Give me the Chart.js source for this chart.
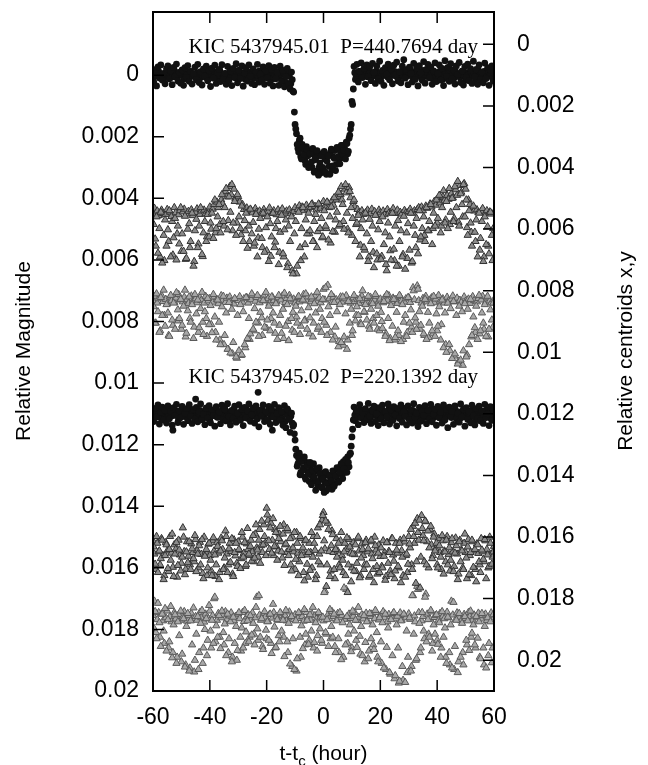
<!DOCTYPE html>
<html><head><meta charset="utf-8">
<script src="https://cdn.jsdelivr.net/npm/chart.js@4/dist/chart.umd.min.js"></script>
<style>html,body{margin:0;padding:0;background:#fff}canvas{display:block}</style>
</head><body>
<canvas id="c" width="648" height="765" style="width:648px;height:765px"></canvas>
<script>
// time from mid-transit (hours), two interleaved cadences
const hours = [
-60,-59.5,-59,-58.5,-58,-57.5,-57,-56.5,-56,-55.5,
-55,-54.5,-54,-53.5,-53,-52.5,-52,-51.5,-51,-50.5,
-50,-49.5,-49,-48.5,-48,-47.5,-47,-46.5,-46,-45.5,
-45,-44.5,-44,-43.5,-43,-42.5,-42,-41.5,-41,-40.5,
-40,-39.5,-39,-38.5,-38,-37.5,-37,-36.5,-36,-35.5,
-35,-34.5,-34,-33.5,-33,-32.5,-32,-31.5,-31,-30.5,
-30,-29.5,-29,-28.5,-28,-27.5,-27,-26.5,-26,-25.5,
-25,-24.5,-24,-23.5,-23,-22.5,-22,-21.5,-21,-20.5,
-20,-19.5,-19,-18.5,-18,-17.5,-17,-16.5,-16,-15.5,
-15,-14.5,-14,-13.5,-13,-12.5,-12,-11.5,-11,-10.5,
-10,-9.5,-9,-8.5,-8,-7.5,-7,-6.5,-6,-5.5,
-5,-4.5,-4,-3.5,-3,-2.5,-2,-1.5,-1,-0.5,
0,0.5,1,1.5,2,2.5,3,3.5,4,4.5,
5,5.5,6,6.5,7,7.5,8,8.5,9,9.5,
10,10.5,11,11.5,12,12.5,13,13.5,14,14.5,
15,15.5,16,16.5,17,17.5,18,18.5,19,19.5,
20,20.5,21,21.5,22,22.5,23,23.5,24,24.5,
25,25.5,26,26.5,27,27.5,28,28.5,29,29.5,
30,30.5,31,31.5,32,32.5,33,33.5,34,34.5,
35,35.5,36,36.5,37,37.5,38,38.5,39,39.5,
40,40.5,41,41.5,42,42.5,43,43.5,44,44.5,
45,45.5,46,46.5,47,47.5,48,48.5,49,49.5,
50,50.5,51,51.5,52,52.5,53,53.5,54,54.5,
55,55.5,56,56.5,57,57.5,58,58.5,59,59.5,
60];
const hours2 = [
-59.75,-59.25,-58.75,-58.25,-57.75,-57.25,-56.75,-56.25,-55.75,-55.25,
-54.75,-54.25,-53.75,-53.25,-52.75,-52.25,-51.75,-51.25,-50.75,-50.25,
-49.75,-49.25,-48.75,-48.25,-47.75,-47.25,-46.75,-46.25,-45.75,-45.25,
-44.75,-44.25,-43.75,-43.25,-42.75,-42.25,-41.75,-41.25,-40.75,-40.25,
-39.75,-39.25,-38.75,-38.25,-37.75,-37.25,-36.75,-36.25,-35.75,-35.25,
-34.75,-34.25,-33.75,-33.25,-32.75,-32.25,-31.75,-31.25,-30.75,-30.25,
-29.75,-29.25,-28.75,-28.25,-27.75,-27.25,-26.75,-26.25,-25.75,-25.25,
-24.75,-24.25,-23.75,-23.25,-22.75,-22.25,-21.75,-21.25,-20.75,-20.25,
-19.75,-19.25,-18.75,-18.25,-17.75,-17.25,-16.75,-16.25,-15.75,-15.25,
-14.75,-14.25,-13.75,-13.25,-12.75,-12.25,-11.75,-11.25,-10.75,-10.25,
-9.75,-9.25,-8.75,-8.25,-7.75,-7.25,-6.75,-6.25,-5.75,-5.25,
-4.75,-4.25,-3.75,-3.25,-2.75,-2.25,-1.75,-1.25,-0.75,-0.25,
0.25,0.75,1.25,1.75,2.25,2.75,3.25,3.75,4.25,4.75,
5.25,5.75,6.25,6.75,7.25,7.75,8.25,8.75,9.25,9.75,
10.25,10.75,11.25,11.75,12.25,12.75,13.25,13.75,14.25,14.75,
15.25,15.75,16.25,16.75,17.25,17.75,18.25,18.75,19.25,19.75,
20.25,20.75,21.25,21.75,22.25,22.75,23.25,23.75,24.25,24.75,
25.25,25.75,26.25,26.75,27.25,27.75,28.25,28.75,29.25,29.75,
30.25,30.75,31.25,31.75,32.25,32.75,33.25,33.75,34.25,34.75,
35.25,35.75,36.25,36.75,37.25,37.75,38.25,38.75,39.25,39.75,
40.25,40.75,41.25,41.75,42.25,42.75,43.25,43.75,44.25,44.75,
45.25,45.75,46.25,46.75,47.25,47.75,48.25,48.75,49.25,49.75,
50.25,50.75,51.25,51.75,52.25,52.75,53.25,53.75,54.25,54.75,
55.25,55.75,56.25,56.75,57.25,57.75,58.25,58.75,59.25,59.75];

// all series below are in units of 1e-5
const UNIT = 1e-5;

// KIC 5437945.01 relative magnitude (left axis)
const lightCurve1 = [
-5,3,-8,2,-12,6,0,-3,9,-6,
4,-10,1,7,-4,-15,2,5,-7,0,
-9,3,12,-2,-6,8,-11,0,4,-3,
6,-8,-1,10,-5,2,-13,7,-2,3,
-7,0,5,-10,9,-4,1,-16,6,-2,
3,-6,11,-1,-9,4,0,-5,8,-12,
2,7,-3,-8,1,14,-6,3,-10,5,
-2,9,-7,0,4,-14,6,-3,1,-9,
8,-1,-5,3,12,-7,0,6,-11,2,
-4,18,-6,1,25,-8,4,28,15,
55,160,190,238,212,265,225,240,278,232,
262,290,245,300,258,275,312,262,298,318,
255,305,272,322,260,296,250,308,266,245,
290,238,272,250,228,268,240,218,255,205,
175,85,45,
-8,3,-4,-12,6,0,-9,2,-15,5,
-3,-10,4,-6,1,-13,8,-2,-7,3,
-11,0,-5,6,-16,2,-8,-1,-12,4,
-6,9,-3,-10,1,-14,5,-7,0,-18,
3,-9,7,-4,-12,2,-6,10,-15,-1,
4,-8,-20,3,-5,12,-10,0,-7,5,
-13,1,14,-4,-9,6,-2,-17,3,-6,
9,-11,0,-5,7,-3,-14,2,16,-8,
-1,5,-10,3,-6,12,-4,-15,1,-7,
4,-12,8,-3,-9,2,-5,10,-6];
const lightCurve1b = [
22,-18,35,-27,9,-33,16,-6,28,-21,
-30,12,-14,31,-25,5,-36,19,-9,26,
-17,33,-24,7,-31,20,-12,29,-4,-26,
15,-35,24,-11,32,-20,3,-29,18,-15,
37,-23,10,-32,27,-8,-19,21,-34,13,
-5,30,-28,17,-13,34,-22,8,-37,25,
-16,11,-30,36,-7,-24,19,-33,4,27,
-20,31,-10,-35,23,-3,16,-27,30,-14,
9,-31,26,-18,35,-25,12,-8,33,-29,
20,-15,38,5,-22,30,45,-10,52,
120,175,225,250,205,272,235,258,290,242,
300,255,282,238,315,270,245,325,285,262,
300,248,315,280,262,322,240,295,270,310,
235,265,288,228,258,245,272,222,248,195,
160,95,
-28,14,-35,22,-12,-40,8,-22,30,-33,
5,-26,18,-38,-9,27,-30,12,-45,20,
-15,33,-24,-3,-36,15,-20,28,-32,0,
-42,19,-11,25,-29,-50,10,-18,31,-26,
-6,22,-38,14,-23,35,-31,-8,17,-44,
26,-19,-35,9,-27,30,-14,-40,21,-5,
-33,16,-22,34,-47,4,-25,20,-37,12,
-16,29,-30,-2,-41,24,-13,32,-28,8,
-36,18,-21,27,-45,6,-19,30,-33,14,
-10,25,-39,11,-24,33,-17,-30,20];

// KIC 5437945.02 relative magnitude (left axis)
const lightCurve2 = [
1098,1105,1092,1110,1101,1088,1115,1097,1104,1090,
1112,1099,1085,1107,1153,1096,1103,1091,1118,1100,
1094,1108,1087,1102,1113,1095,1083,1106,1099,1111,
1052,1093,1104,1089,1116,1098,1101,1086,1109,1095,
1120,1092,1103,1097,1084,1110,1099,1106,1091,1114,
1100,1088,1107,1096,1119,1093,1102,1085,1109,1098,
1104,1096,1095,1112,1090,1101,1087,1115,1097,1106,
1092,1108,1083,1099,1030,1094,1103,1089,1110,1100,
1096,1122,1086,1105,1153,1093,1101,1112,1090,1107,
1098,1115,1094,1125,1102,1089,1118,1108,1130,
1135,1185,1235,1262,1228,1290,1250,1275,1305,1258,
1288,1320,1270,1302,1262,1318,1285,1332,1275,1310,
1340,1292,1322,1350,1300,1335,1312,1345,1290,1326,
1305,1280,1318,1270,1298,1255,1290,1262,1240,1272,
1228,1175,1120,
1104,1093,1110,1097,1086,1108,1099,1115,1091,1102,
1095,1112,1088,1105,1098,1080,1109,1094,1117,1100,
1090,1106,1097,1113,1085,1102,1096,1120,1092,1108,
1099,1087,1111,1095,1104,1082,1107,1098,1115,1093,
1101,1089,1110,1097,1124,1094,1106,1086,1103,1112,
1096,1091,1108,1100,1084,1114,1097,1105,1090,1110,
1099,1087,1103,1118,1095,1083,1106,1098,1112,1092,
1101,1088,1107,1096,1115,1093,1104,1085,1109,1100,
1097,1113,1090,1106,1087,1120,1102,1094,1108,1091,
1099,1111,1095,1086,1105,1098,1116,1093,1112];
const lightCurve2b = [
1125,1082,1110,1071,1133,1095,1078,1120,1088,1130,
1074,1116,1092,1137,1080,1105,1069,1128,1090,1112,
1076,1134,1098,1083,1122,1070,1108,1131,1086,1117,
1079,1126,1093,1068,1119,1102,1135,1081,1114,1073,
1129,1087,1106,1140,1077,1111,1094,1132,1072,1118,
1084,1123,1067,1109,1136,1089,1115,1075,1127,1097,
1070,1121,1085,1138,1079,1113,1091,1068,1124,1103,
1081,1130,1074,1116,1142,1088,1107,1071,1125,1093,
1119,1076,1134,1086,1110,1069,1128,1099,1080,1121,
1092,1137,1073,1145,1084,1115,1160,1098,1140,
1165,1215,1270,1245,1298,1255,1282,1240,1312,1268,
1295,1258,1330,1285,1305,1348,1278,1320,1295,1338,
1310,1355,1288,1326,1342,1300,1318,1285,1335,1302,
1275,1322,1290,1262,1310,1278,1248,1290,1258,1232,
1205,1150,
1078,1122,1089,1135,1070,1113,1096,1128,1083,1119,
1066,1107,1131,1091,1075,1125,1100,1138,1080,1116,
1072,1129,1094,1110,1068,1133,1087,1121,1077,1104,
1139,1082,1115,1071,1127,1093,1108,1136,1074,1119,
1086,1130,1067,1112,1098,1141,1079,1124,1090,1105,
1073,1132,1088,1117,1069,1126,1101,1084,1137,1076,
1113,1095,1130,1071,1120,1086,1145,1078,1109,1092,
1134,1074,1116,1099,1127,1068,1111,1085,1140,1080,
1118,1093,1129,1072,1106,1136,1083,1115,1075,1123,
1090,1131,1069,1112,1100,1138,1077,1121,1088];

// KIC 5437945.01 centroid x (right axis)
const centroid1X = [
548,532,655,541,556,690,538,549,702,552,
536,640,545,559,684,530,547,615,553,540,
672,544,535,698,551,542,660,537,556,705,
546,534,648,552,541,689,538,550,625,543,
528,600,535,520,612,512,530,585,505,518,
590,478,495,572,462,488,605,470,500,580,
495,512,618,520,536,605,531,542,640,538,
547,655,533,545,628,541,552,660,536,548,
670,544,531,688,549,540,642,553,537,675,
545,534,690,548,541,712,537,550,735,542,
530,745,536,524,702,528,540,650,522,535,
615,530,518,640,526,538,608,520,532,628,
510,527,598,515,530,645,508,522,610,505,
495,590,488,505,575,470,482,600,465,498,
620,510,528,585,536,546,652,540,552,668,
545,538,690,550,535,675,543,554,700,538,
547,688,541,553,715,536,548,670,544,533,
702,549,538,720,545,551,682,539,547,695,
542,535,710,548,540,660,536,530,635,528,
540,620,525,532,605,518,528,598,510,522,
580,502,515,590,495,508,570,490,503,585,
485,498,565,472,490,578,458,480,560,452,
470,595,505,520,610,530,541,640,537,546,
668,542,533,690,548,540,655,544,551,702,
545];
const centroid1Xb = [
585,632,560,678,598,545,710,620,570,655,
602,540,690,575,628,565,700,590,648,530,
615,672,558,695,600,582,640,548,720,605,
568,660,590,530,682,612,575,640,552,625,
580,548,630,505,598,560,520,612,488,575,
530,468,602,495,545,455,580,510,620,488,
560,598,525,640,572,548,662,590,535,615,
578,645,552,690,600,565,630,548,675,595,
560,705,582,625,548,660,598,575,715,610,
555,680,602,570,725,590,640,560,745,615,
575,720,545,660,598,530,690,570,615,548,
605,520,640,575,552,660,518,598,565,625,
540,590,512,635,560,528,608,498,570,545,
480,585,462,520,600,455,548,612,478,530,
565,505,640,580,555,690,598,570,660,548,
615,705,568,640,590,725,555,680,602,575,
698,560,650,612,735,580,625,700,548,665,
590,720,572,640,605,690,558,730,612,582,
668,548,705,590,620,565,680,540,625,598,
560,640,530,605,575,520,650,548,590,505,
565,490,612,530,475,580,510,598,468,545,
500,575,462,530,445,590,485,520,455,560,
505,620,540,580,655,525,610,570,690,548,
630,575,705,560,650,592,680,545,620,598];

// KIC 5437945.01 centroid y (right axis)
const centroid1Y = [
832,818,905,840,826,930,815,835,880,828,
842,945,820,833,912,838,824,898,812,830,
925,836,821,950,829,841,890,817,834,918,
826,839,935,822,831,902,840,818,948,833,
825,910,837,820,935,829,842,960,816,831,
975,838,824,990,820,835,1005,843,828,1019,
832,819,1010,837,826,985,822,840,958,829,
815,930,834,822,905,839,827,945,818,833,
922,826,841,890,820,832,938,836,823,912,
830,817,955,838,825,900,815,834,928,827,
840,885,822,836,915,829,812,895,833,820,
940,836,827,905,818,835,925,824,839,890,
795,830,912,782,826,935,838,821,950,829,
834,965,820,837,977,826,816,960,831,840,
945,823,835,880,829,841,905,817,832,870,
838,825,915,821,836,890,830,818,925,834,
827,900,839,822,940,831,816,955,836,824,
960,828,841,945,819,833,958,837,826,935,
822,838,918,790,829,902,784,832,925,840,
825,945,818,836,952,830,823,940,839,827,
930,815,834,910,826,840,975,821,833,995,
828,817,1012,836,824,1030,831,838,1042,820,
834,1008,827,841,950,819,832,935,836,825,
940,830,818,925,838,823,950,833,840,920,
829];
const centroid1Yb = [
852,905,810,868,935,822,880,798,915,845,
872,948,815,895,840,925,806,862,890,828,
912,850,798,938,865,820,902,845,955,812,
875,830,920,858,805,942,868,890,825,910,
848,936,812,885,960,830,902,975,852,818,
945,872,990,838,1002,860,968,825,1015,880,
995,845,1008,868,975,822,955,890,940,810,
925,858,902,815,948,870,888,832,918,805,
895,850,930,820,872,905,842,958,815,880,
938,860,808,915,845,962,826,890,870,935,
850,905,818,942,865,830,898,810,925,855,
888,820,950,842,872,805,918,860,935,828,
902,790,945,852,880,812,960,838,918,868,
982,845,968,820,950,875,990,835,905,860,
930,815,898,852,880,826,910,800,868,845,
895,818,925,860,842,905,812,880,850,930,
870,922,835,948,812,890,962,848,915,828,
952,870,930,815,965,845,902,880,948,822,
905,862,935,800,888,925,795,868,912,850,
940,828,958,870,905,842,930,818,948,875,
915,852,960,830,985,872,1000,840,975,858,
1020,835,1005,880,1038,850,1025,868,995,842,
1015,860,975,828,945,885,920,850,958,815,
930,872,905,845,948,818,925,862,895,840];

// KIC 5437945.02 centroid x (right axis)
const centroid2X = [
1612,1655,1705,1620,1648,1690,1605,1660,1725,1618,
1645,1712,1598,1652,1698,1625,1640,1730,1610,1658,
1685,1570,1647,1705,1615,1662,1690,1622,1650,1680,
1608,1643,1700,1617,1656,1718,1600,1649,1725,1623,
1660,1710,1612,1645,1728,1618,1652,1715,1603,1640,
1700,1580,1655,1690,1620,1647,1720,1609,1661,1685,
1615,1644,1670,1600,1652,1695,1622,1640,1660,1610,
1648,1680,1590,1635,1665,1575,1628,1650,1560,1620,
1506,1545,1640,1555,1610,1660,1575,1632,1645,1590,
1615,1668,1560,1625,1650,1580,1640,1690,1600,1648,
1705,1585,1652,1680,1605,1645,1715,1612,1658,1730,
1620,1650,1700,1598,1643,1725,1570,1655,1690,1545,
1520,1638,1760,1555,1647,1710,1580,1650,1735,1605,
1645,1690,1612,1660,1715,1620,1640,1780,1608,1652,
1700,1618,1657,1712,1605,1645,1725,1622,1660,1690,
1610,1648,1730,1615,1655,1705,1600,1642,1720,1625,
1663,1695,1612,1650,1728,1618,1646,1710,1605,1658,
1735,1620,1652,1700,1610,1644,1725,1616,1660,1715,
1598,1635,1690,1565,1620,1750,1540,1610,1765,1530,
1595,1680,1550,1615,1700,1575,1625,1660,1590,1638,
1690,1605,1650,1705,1612,1645,1680,1598,1657,1710,
1618,1648,1695,1603,1655,1720,1610,1642,1700,1620,
1650,1735,1608,1660,1725,1615,1645,1705,1622,1653,
1690,1605,1648,1680,1612,1640,1700,1600,1655,1665,
1630];
const centroid2Xb = [
1632,1688,1598,1715,1645,1670,1610,1738,1660,1625,
1702,1640,1675,1590,1728,1655,1618,1692,1642,1710,
1665,1600,1722,1648,1683,1615,1705,1638,1670,1595,
1712,1655,1628,1690,1608,1735,1662,1640,1700,1620,
1675,1725,1602,1658,1690,1630,1738,1645,1612,1705,
1668,1598,1715,1638,1682,1605,1728,1650,1620,1695,
1640,1702,1585,1665,1618,1690,1572,1655,1630,1678,
1595,1668,1560,1642,1610,1685,1548,1625,1598,1660,
1528,1612,1570,1652,1540,1630,1585,1675,1605,1565,
1648,1590,1692,1622,1572,1660,1605,1710,1635,1585,
1672,1620,1725,1598,1660,1635,1742,1610,1688,1650,
1708,1585,1665,1620,1738,1598,1680,1560,1645,1530,
1612,1548,1690,1575,1728,1628,1592,1705,1640,1665,
1620,1700,1585,1675,1648,1725,1602,1690,1632,1745,
1655,1710,1625,1685,1600,1732,1668,1640,1705,1618,
1690,1638,1725,1610,1670,1748,1628,1695,1652,1715,
1635,1700,1662,1740,1618,1685,1650,1722,1605,1678,
1710,1642,1695,1620,1748,1665,1605,1730,1655,1688,
1622,1575,1705,1598,1555,1680,1585,1545,1665,1572,
1612,1548,1690,1580,1635,1565,1670,1600,1645,1620,
1700,1628,1665,1595,1720,1648,1610,1690,1635,1675,
1605,1712,1652,1628,1738,1615,1680,1645,1705,1590,
1668,1632,1722,1650,1610,1698,1640,1745,1625,1680,
1715,1642,1672,1608,1735,1658,1695,1620,1688,1648];

// KIC 5437945.02 centroid y (right axis)
const centroid2Y = [
1855,1808,1910,1868,1845,1925,1850,1872,1945,1862,
1840,1960,1858,1875,1975,1845,1866,1990,1852,1870,
2005,1860,1842,2015,1873,1855,2025,1848,1865,2038,
1858,1870,2030,1845,1862,2010,1876,1850,1985,1865,
1840,1960,1855,1800,1940,1870,1848,1925,1862,1853,
1950,1842,1868,1975,1856,1846,1990,1872,1858,2000,
1850,1865,1970,1845,1874,1945,1859,1852,1925,1868,
1846,1915,1862,1795,1935,1853,1870,1955,1848,1860,
1930,1874,1851,1945,1863,1845,1960,1857,1870,1940,
1849,1866,1925,1855,1872,1975,1843,1860,2020,1868,
1852,2035,1864,1847,1990,1858,1873,1950,1845,1862,
1935,1870,1850,1960,1855,1866,1920,1848,1860,1945,
1872,1775,1915,1853,1865,1930,1842,1858,1955,1870,
1848,1975,1862,1855,1990,1867,1770,1945,1850,1864,
1960,1857,1845,1935,1871,1860,1980,1852,1866,2005,
1847,1873,1970,1858,1850,1950,1865,1845,1990,1869,
1855,2010,1842,1862,2030,1875,1851,2045,1860,1848,
2060,1866,1857,2074,1846,1870,2065,1853,1862,2040,
1849,1867,2020,1790,1856,2000,1760,1845,1975,1872,
1858,1930,1785,1850,1915,1866,1843,1945,1861,1854,
1935,1870,1848,1960,1857,1865,1990,1844,1862,2015,
1808,1853,2030,1868,1846,2005,1860,1872,1975,1851,
1864,1950,1845,1858,1925,1870,1853,1960,1862,1847,
1990,1866,1855,2015,1850,1871,1985,1858,1846,1960,
1862];
const centroid2Yb = [
1895,1842,1930,1815,1878,1955,1850,1905,1832,1970,
1868,1940,1825,1992,1885,1852,2010,1875,1920,1840,
1980,1865,2022,1890,1848,2035,1872,1950,1830,2000,
1915,1858,1975,1880,1838,1960,1900,1865,1935,1822,
1905,1870,1945,1795,1888,1925,1855,1962,1840,1910,
1882,1985,1850,1930,1875,2005,1860,1945,1890,1968,
1845,1925,1895,1960,1838,1908,1872,1940,1855,1918,
1880,1950,1828,1898,1790,1925,1865,1965,1842,1902,
1875,1935,1850,1978,1818,1892,1958,1868,1920,1845,
1905,1870,1988,1838,1940,1880,2012,1858,1930,2030,
1872,1995,1845,1925,1888,1962,1835,1915,1870,1948,
1852,1905,1828,1942,1878,1970,1845,1898,1935,1860,
1780,1910,1868,1955,1835,1890,1925,1850,1975,1872,
1930,1845,1998,1878,1765,1950,1858,1915,1885,1972,
1840,1905,1870,1958,1828,1922,1890,1985,1855,1942,
1875,1995,1848,1930,1885,1965,1838,1910,2005,1862,
1940,1878,2025,1850,1958,1895,2040,1868,1985,1845,
2050,1885,1960,2068,1872,2020,1850,2072,1905,1990,
1862,2035,1790,1915,1875,1995,1770,1880,1960,1845,
1905,1795,1940,1868,1925,1838,1970,1885,1915,1852,
1948,1878,1990,1842,1925,1895,2010,1860,1975,1885,
2025,1812,1955,1870,2040,1848,1990,1880,2015,1858,
1935,1872,1968,1840,1912,1885,1950,1858,1928,1875,
1995,1848,1960,1890,2025,1862,1945,1875,2008,1852];

const xTicks = [-60,-40,-20,0,20,40,60];
const magTicks = [0,0.002,0.004,0.006,0.008,0.01,0.012,0.014,0.016,0.018,0.02];
const centroidTicks = [0,0.002,0.004,0.006,0.008,0.01,0.012,0.014,0.016,0.018,0.02];
const panelLabels = ['KIC 5437945.01  P=440.7694 day','KIC 5437945.02  P=220.1392 day'];
const labelAnchors = [[54.4,-0.00072],[54.4,0.0100]];

function toPoints(t, vals){ return t.map((h,i)=>({x:h, y:vals[i]*UNIT})); }
function both(a, b){ return toPoints(hours, a).concat(toPoints(hours2, b)); }
function fmt(v){ return String(parseFloat(Number(v).toFixed(4))); }

Chart.defaults.font.family = "'Liberation Sans', Arial, sans-serif";
Chart.defaults.color = '#000';

const frame = {
  id:'frame',
  afterDraw(chart){
    const c = chart.ctx, a = chart.chartArea;
    const xs = chart.scales.x, ys = chart.scales.y, y2 = chart.scales.y2;
    const L = 11;
    c.save();
    c.strokeStyle = '#000'; c.lineWidth = 1.5;
    c.beginPath();
    xs.ticks.forEach(t=>{ const p = xs.getPixelForValue(t.value);
      c.moveTo(p,a.bottom); c.lineTo(p,a.bottom-L); c.moveTo(p,a.top); c.lineTo(p,a.top+L); });
    ys.ticks.forEach(t=>{ const p = ys.getPixelForValue(t.value); c.moveTo(a.left,p); c.lineTo(a.left+L,p); });
    y2.ticks.forEach(t=>{ const p = y2.getPixelForValue(t.value); c.moveTo(a.right,p); c.lineTo(a.right-L,p); });
    c.stroke();
    c.lineWidth = 2;
    c.strokeRect(a.left,a.top,a.right-a.left,a.bottom-a.top);
    c.fillStyle = '#000';
    c.font = "21px 'Liberation Serif', 'Times New Roman', serif";
    c.textAlign = 'right'; c.textBaseline = 'alphabetic';
    panelLabels.forEach((txt,i)=>{
      c.fillText(txt, xs.getPixelForValue(labelAnchors[i][0]), ys.getPixelForValue(labelAnchors[i][1]));
    });
    c.font = "21px 'Liberation Sans', Arial, sans-serif";
    c.textAlign = 'center'; c.textBaseline = 'middle';
    c.save(); c.translate(24, 351); c.rotate(-Math.PI/2); c.fillText('Relative Magnitude',0,0); c.restore();
    c.save(); c.translate(626, 351); c.rotate(-Math.PI/2); c.fillText('Relative centroids x,y',0,0); c.restore();
    c.textBaseline = 'alphabetic'; c.textAlign = 'left';
    const big = "21px 'Liberation Sans', Arial, sans-serif", small = "15px 'Liberation Sans', Arial, sans-serif";
    c.font = big; const w1 = c.measureText('t-t').width, w3 = c.measureText(' (hour)').width;
    c.font = small; const w2 = c.measureText('c').width;
    const cx = (a.left + a.right)/2, x0 = cx - (w1+w2+w3)/2, base = 760;
    c.font = big; c.fillText('t-t', x0, base);
    c.font = small; c.fillText('c', x0+w1, base+6);
    c.font = big; c.fillText(' (hour)', x0+w1+w2, base);
    c.restore();
  }
};

const tickFont = {size:23, family:"'Liberation Sans', Arial, sans-serif"};
const noPad = s => { s.paddingTop = 0; s.paddingBottom = 0; s.paddingLeft = 0; s.paddingRight = 0; };

new Chart(document.getElementById('c').getContext('2d'), {
  type:'scatter',
  data:{datasets:[
    {label:'centroid x .01', data:both(centroid1X, centroid1Xb), yAxisID:'y2', pointStyle:'triangle', pointRadius:4.2, backgroundColor:'#8c8c8c', borderColor:'#333', borderWidth:1},
    {label:'centroid y .01', data:both(centroid1Y, centroid1Yb), yAxisID:'y2', pointStyle:'triangle', pointRadius:4.2, backgroundColor:'#a8a8a8', borderColor:'#5a5a5a', borderWidth:1},
    {label:'centroid x .02', data:both(centroid2X, centroid2Xb), yAxisID:'y2', pointStyle:'triangle', pointRadius:4.2, backgroundColor:'#8c8c8c', borderColor:'#333', borderWidth:1},
    {label:'centroid y .02', data:both(centroid2Y, centroid2Yb), yAxisID:'y2', pointStyle:'triangle', pointRadius:4.2, backgroundColor:'#a8a8a8', borderColor:'#5a5a5a', borderWidth:1},
    {label:'KIC 5437945.01', data:both(lightCurve1, lightCurve1b), yAxisID:'y', pointStyle:'circle', pointRadius:3.4, backgroundColor:'#111', borderColor:'#111', borderWidth:0},
    {label:'KIC 5437945.02', data:both(lightCurve2, lightCurve2b), yAxisID:'y', pointStyle:'circle', pointRadius:3.4, backgroundColor:'#111', borderColor:'#111', borderWidth:0}
  ]},
  options:{
    responsive:false, animation:false, devicePixelRatio:1,
    layout:{padding:{top:12,left:0,right:0,bottom:0}},
    plugins:{legend:{display:false}, tooltip:{enabled:false}},
    scales:{
      x:{type:'linear', position:'bottom', min:-60, max:60,
        afterBuildTicks:s=>{s.ticks = xTicks.map(v=>({value:v}));},
        afterFit:s=>{s.height = 74; noPad(s);},
        grid:{display:false, drawTicks:false}, border:{display:false},
        ticks:{padding:13, font:tickFont, color:'#000', maxRotation:0, autoSkip:false, callback:v=>String(v)}},
      y:{type:'linear', position:'left', reverse:true, min:-0.00205, max:0.02,
        afterBuildTicks:s=>{s.ticks = magTicks.map(v=>({value:v}));},
        afterFit:s=>{s.width = 153; noPad(s);},
        grid:{display:false, drawTicks:false}, border:{display:false},
        ticks:{padding:14, font:tickFont, color:'#000', autoSkip:false, callback:v=>fmt(v)}},
      y2:{type:'linear', position:'right', reverse:true, min:-0.00105, max:0.021,
        afterBuildTicks:s=>{s.ticks = centroidTicks.map(v=>({value:v}));},
        afterFit:s=>{s.width = 154; noPad(s);},
        grid:{display:false, drawTicks:false}, border:{display:false},
        ticks:{padding:23, font:tickFont, color:'#000', autoSkip:false, callback:v=>fmt(v)}}
    }
  },
  plugins:[frame]
});
</script>
</body></html>
